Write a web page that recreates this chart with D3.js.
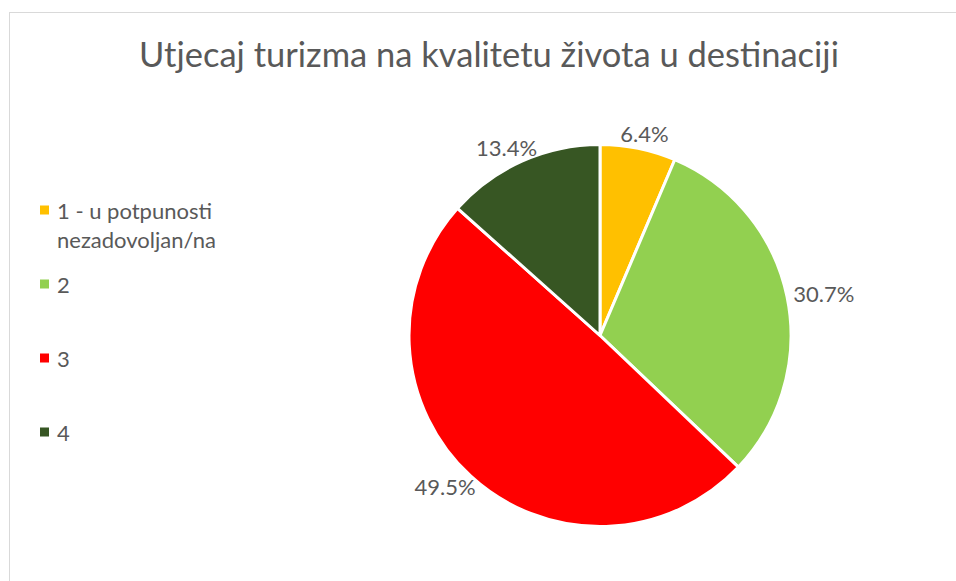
<!DOCTYPE html>
<html>
<head>
<meta charset="utf-8">
<script src="https://cdn.jsdelivr.net/npm/d3@7"></script>
<style>
  html, body { margin: 0; padding: 0; background: #ffffff; }
  svg { display: block; }
  text { font-family: Lato, "Open Sans", "Noto Sans", sans-serif; fill: #595959; }
</style>
</head>
<body>
<svg id="chart" width="956" height="581"></svg>
<script>
// ---- data ----
const title = "Utjecaj turizma na kvalitetu života u destinaciji";
const categories = ["1 - u potpunosti nezadovoljan/na", "2", "3", "4"];
const legendLines = [["1 - u potpunosti", "nezadovoljan/na"], ["2"], ["3"], ["4"]];
const values = [6.4, 30.7, 49.5, 13.4];
const labels = ["6.4%", "30.7%", "49.5%", "13.4%"];
const colors = ["#FFC000", "#92D050", "#FF0000", "#375623"];

// ---- layout ----
const W = 956, H = 581;
const cx = 600, cy = 335.5, R = 191;
const svg = d3.select("#chart");

// chart border (partially visible)
svg.append("rect")
  .attr("x", 9.5).attr("y", 12.5)
  .attr("width", 1000).attr("height", 1000)
  .attr("fill", "none").attr("stroke", "#d9d9d9").attr("stroke-width", 1);

// title
svg.append("text")
  .attr("x", 489).attr("y", 67)
  .attr("text-anchor", "middle")
  .style("font-size", "34.5px")
  .text(title);

// pie
const pie = d3.pie().sort(null).value(d => d)(values);
const arc = d3.arc().innerRadius(0).outerRadius(R);
const g = svg.append("g").attr("transform", `translate(${cx},${cy})`);
g.selectAll("path.slice").data(pie).join("path")
  .attr("class", "slice")
  .attr("d", arc)
  .attr("fill", (d, i) => colors[i])
  .attr("stroke", "#ffffff")
  .attr("stroke-width", 3)
  .attr("stroke-linejoin", "round");

// data labels (outside end)
const gap = 7;
g.selectAll("text.lbl").data(pie).join("text")
  .attr("class", "lbl")
  .style("font-size", "22px")
  .attr("text-anchor", "middle")
  .attr("dominant-baseline", "central")
  .text((d, i) => labels[i])
  .each(function(d) {
    const a = (d.startAngle + d.endAngle) / 2;
    const bb = this.getBBox();
    const w = bb.width, h = 16;
    const ax = Math.sin(a) * (R + gap), ay = -Math.cos(a) * (R + gap);
    const x = ax + Math.sin(a) * w / 2;
    const y = ay - Math.cos(a) * h / 2;
    d3.select(this).attr("x", x).attr("y", y);
  });

// legend
const legendY = [210, 284, 358, 432];
const lg = svg.append("g");
categories.forEach((c, i) => {
  lg.append("rect")
    .attr("x", 40).attr("y", legendY[i] - 4.5)
    .attr("width", 9).attr("height", 9)
    .attr("fill", colors[i]);
  const t = lg.append("text")
    .attr("x", 57).attr("y", legendY[i])
    .attr("dominant-baseline", "central")
    .style("font-size", "22px");
  legendLines[i].forEach((ln, j) => {
    t.append("tspan").attr("x", 57).attr("dy", j === 0 ? 0 : 29).text(ln);
  });
});
</script>
</body>
</html>
